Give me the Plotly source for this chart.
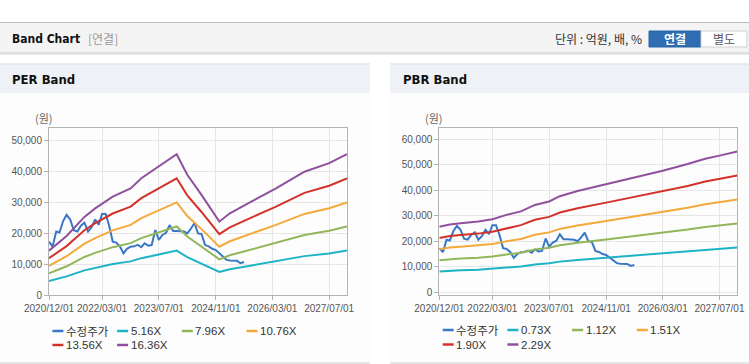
import plotly.graph_objects as go
import pandas as pd

W, H = 749, 364

# ---------------- data ----------------
price_name = "수정주가"
price_start = "2020-12-01"
price = [17300, 15700, 20600, 20300, 24000, 26000, 24500, 21000, 20600, 22500,
         23500, 20600, 22000, 24500, 22800, 26300, 26300, 22500, 17300, 17000,
         15800, 13500, 15000, 15700, 15800, 16300, 15500, 16800, 16000, 16200,
         21100, 17900, 19500, 20200, 22700, 20800, 20800, 20800, 20600, 20000,
         21500, 23400, 20000, 19800, 16200, 15800, 15000, 14600, 13500, 12600,
         11400, 11200, 11200, 11100, 10300, 10700]

eps_dates = ["2020-12-01", "2021-05-01", "2021-10-01", "2022-01-01", "2022-06-01",
             "2022-11-01", "2023-02-01", "2023-07-01", "2023-12-01", "2024-03-01",
             "2024-07-01", "2024-12-01", "2025-03-01", "2025-09-01", "2026-04-01",
             "2026-12-01", "2027-07-01", "2027-12-01"]
eps = [880, 1170, 1550, 1718, 1950, 2115, 2317, 2545, 2793, 2384,
       1987, 1455, 1620, 1852, 2115, 2445, 2616, 2793]
per_multiples = [5.16, 7.96, 10.76, 13.56, 16.36]

bps_dates = ["2020-12-01", "2021-03-01", "2021-06-01", "2021-11-01", "2022-03-01",
             "2022-07-01", "2022-11-01", "2023-03-01", "2023-07-01", "2023-10-01",
             "2024-03-01", "2024-11-01", "2025-07-01", "2026-03-01", "2026-10-01",
             "2027-03-01", "2027-07-01", "2027-12-01"]
bps = [11200, 11600, 11800, 12100, 12500, 13250, 13850, 14950, 15550, 16450,
       17350, 18500, 19650, 20800, 21950, 22850, 23400, 24100]
pbr_multiples = [0.73, 1.12, 1.51, 1.90, 2.29]

x_tick_dates = ["2020-12-01", "2022-03-01", "2023-07-01", "2024-11-01", "2026-03-01", "2027-07-01"]
x_tick_labels = ["2020/12/01", "2022/03/01", "2023/07/01", "2024/11/01", "2026/03/01", "2027/07/01"]
per_y_ticks = [0, 10000, 20000, 30000, 40000, 50000]
pbr_y_ticks = [0, 10000, 20000, 30000, 40000, 50000, 60000]

price_color = "#3a77c6"
band_colors = ["#1db3c6", "#92b65a", "#f4a93b", "#d3322b", "#8f509d"]

FONT = "Liberation Sans, Arial, Noto Sans CJK KR, sans-serif"
KFONT = "Noto Sans CJK KR, Liberation Sans, sans-serif"
NFONT = "Liberation Sans Narrow, DejaVu Sans Condensed, Liberation Sans, sans-serif"

price_dates = pd.date_range(price_start, periods=len(price), freq="MS")


def px(x):
    return x / W


def py(y):
    return 1 - y / H


fig = go.Figure()

# PER panel
fig.add_trace(go.Scatter(x=price_dates, y=price, mode="lines", name=price_name,
                         line=dict(color=price_color, width=2), xaxis="x", yaxis="y"))
for m, c in zip(per_multiples, band_colors):
    fig.add_trace(go.Scatter(x=eps_dates, y=[e * m for e in eps], mode="lines",
                             name=f"{m:.2f}X", line=dict(color=c, width=2),
                             xaxis="x", yaxis="y"))
# PBR panel
fig.add_trace(go.Scatter(x=price_dates, y=price, mode="lines", name=price_name,
                         line=dict(color=price_color, width=2), xaxis="x2", yaxis="y2"))
for m, c in zip(pbr_multiples, band_colors):
    fig.add_trace(go.Scatter(x=bps_dates, y=[b * m for b in bps], mode="lines",
                             name=f"{m:.2f}X", line=dict(color=c, width=2),
                             xaxis="x2", yaxis="y2"))

axis_common = dict(showline=True, linecolor="#b4b4b4", linewidth=1, mirror=True,
                   showgrid=True, gridcolor="#e6e6e6", gridwidth=1, zeroline=False,
                   ticks="outside", ticklen=4, tickcolor="#b4b4b4", tickangle=0,
                   automargin=False,
                   tickfont=dict(family=FONT, size=10, color="#555555"))

xr = ["2020-12-01", "2027-12-01"]
fig.update_layout(
    width=W, height=H, margin=dict(l=0, r=0, t=0, b=0, pad=0), autosize=False,
    paper_bgcolor="white", plot_bgcolor="white", showlegend=False,
    xaxis=dict(domain=[px(49), px(347)], range=xr, tickvals=x_tick_dates,
               ticktext=x_tick_labels, anchor="y", **axis_common),
    yaxis=dict(domain=[py(295), py(128)], range=[0, 54200], tickvals=per_y_ticks,
               tickformat=",", anchor="x", **axis_common),
    xaxis2=dict(domain=[px(439.3), px(737.3)], range=xr, tickvals=x_tick_dates,
                ticktext=x_tick_labels, anchor="y2", **axis_common),
    yaxis2=dict(domain=[py(295.3), py(128.3)], range=[-1200, 64300], tickvals=pbr_y_ticks,
                tickformat=",", anchor="x2", **axis_common),
)

shapes = []
ann = []


def rect(x0, y0, x1, y1, fill, line=None, layer="below"):
    shapes.append(dict(type="rect", xref="paper", yref="paper", x0=px(x0), x1=px(x1),
                       y0=py(y1), y1=py(y0), fillcolor=fill, layer=layer,
                       line=dict(width=1 if line else 0, color=line or fill)))


def hline(x0, x1, y, color, width=1, layer="below"):
    shapes.append(dict(type="line", xref="paper", yref="paper", x0=px(x0), x1=px(x1),
                       y0=py(y), y1=py(y), layer=layer, line=dict(color=color, width=width)))


def text(x, y, s, size=12, color="#333", bold=False, xanchor="left", family=KFONT):
    ann.append(dict(xref="paper", yref="paper", x=px(x), y=py(y), text=f"<b>{s}</b>" if bold else s,
                    showarrow=False, xanchor=xanchor, yanchor="middle", borderpad=0,
                    font=dict(family=family, size=size, color=color)))


# header
rect(0, 22.5, W, 53, "#f4f4f4")
hline(0, W, 22.5, "#bdbdbd")
hline(0, W, 53, "#c8c8c8")
hline(0, W, 54.5, "#e6e6e6")
text(11, 39, "Band Chart", size=12, color="#111", bold=True, family=NFONT)
text(87, 39, "[연결]", size=12, color="#999")
text(643, 39, "단위 : 억원, 배, %", size=12, color="#333", xanchor="right")
rect(649, 31, 701, 47, "#2f6db3", line="#2a64a6")
rect(701, 31, 747, 47, "#ffffff", line="#cfcfcf")
text(675, 39, "연결", size=12, color="white", bold=True, xanchor="center")
text(724, 39, "별도", size=12, color="#555", xanchor="center")

# panels
for x0, x1 in [(0, 370), (390, W)]:
    rect(x0, 64, x1, 363, "#fdfdfd")
    rect(x0, 64.5, x1, 93, "#eef1f6")
    hline(x0, x1, 64, "#d9d9d9")
    hline(x0, x1, 363, "#cccccc")
text(11, 79, "PER Band", size=13, color="#111", bold=True, family=NFONT)
text(402, 79, "PBR Band", size=13, color="#111", bold=True, family=NFONT)
text(44, 118, "(원)", size=11, color="#666", xanchor="center")
text(434, 118, "(원)", size=11, color="#666", xanchor="center")


# legends
def legend(left, multiples, rows_y):
    names = [price_name] + [f"{m:.2f}X" for m in multiples]
    colors = [price_color] + band_colors
    for i, (n, c) in enumerate(zip(names, colors)):
        col, row = i % 4, i // 4
        x0 = left + 3.4 + col * 64.7
        y = rows_y[row]
        shapes.append(dict(type="line", xref="paper", yref="paper", x0=px(x0), x1=px(x0 + 11),
                           y0=py(y), y1=py(y), line=dict(color=c, width=2.5)))
        text(x0 + 12.5, y, n, size=11.5, color="#333",
             family=KFONT if n == price_name else FONT)


legend(49, per_multiples, [331, 345])
legend(439.3, pbr_multiples, [330, 344.5])

fig.update_layout(shapes=shapes, annotations=ann)
fig.write_html("out.html", config={"displayModeBar": False, "responsive": False},
               post_script="document.body.style.margin='0';document.body.style.overflow='hidden';")
